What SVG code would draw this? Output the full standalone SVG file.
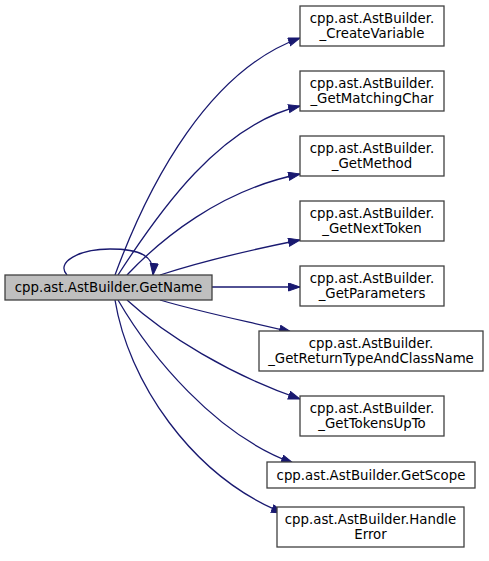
<svg xmlns="http://www.w3.org/2000/svg" width="489" height="561" viewBox="0 0 489 561">
<defs>
<style>
.node rect{fill:#ffffff;stroke:#404040;stroke-width:1.3}
.node.main rect{fill:#bfbfbf}
text{font-family:"DejaVu Sans","Noto Sans",sans-serif;font-size:13.33px;fill:#000;text-anchor:middle}
.edge{fill:none;stroke:#191970;stroke-width:1.3;marker-end:url(#arr)}
</style>
<marker id="arr" markerUnits="userSpaceOnUse" markerWidth="13" markerHeight="10" refX="12" refY="4.5" orient="auto">
<path d="M0.5,0.5 L12,4.5 L0.5,8.5 z" fill="#191970" stroke="#191970" stroke-width="1"/>
</marker>
</defs>
<rect width="489" height="561" fill="#ffffff"/>
<g id="edges">
<path class="edge" d="M67,275 C55,262 80,249 110,249 C140,249 155,256 153,275"/>
<path class="edge" d="M115,275 C150,180 210,70 300,38"/>
<path class="edge" d="M118,275 C160,210 220,125 300,106"/>
<path class="edge" d="M127,275 C160,240 220,190 300,174"/>
<path class="edge" d="M160,275 C200,262 250,250 300,240"/>
<path class="edge" d="M212,287 L300,287"/>
<path class="edge" d="M160,300 C200,312 250,322 291,332"/>
<path class="edge" d="M127,300 C165,335 230,375 300,399"/>
<path class="edge" d="M118,300 C150,355 215,435 293,463"/>
<path class="edge" d="M115,300 C128,380 190,475 283,513"/>
</g>
<g id="main" class="node main">
<rect x="5" y="275" width="207" height="25"/>
<text x="108.5" y="292">cpp.ast.AstBuilder.GetName</text>
</g>
<g id="createvariable" class="node">
<rect x="300" y="6" width="144" height="40"/>
<text x="372" y="23">cpp.ast.AstBuilder.</text>
<text x="372" y="38">_CreateVariable</text>
</g>
<g id="getmatchingchar" class="node">
<rect x="300" y="71" width="144" height="40"/>
<text x="372" y="88">cpp.ast.AstBuilder.</text>
<text x="372" y="103">_GetMatchingChar</text>
</g>
<g id="getmethod" class="node">
<rect x="300" y="136" width="144" height="40"/>
<text x="372" y="153">cpp.ast.AstBuilder.</text>
<text x="372" y="168">_GetMethod</text>
</g>
<g id="getnexttoken" class="node">
<rect x="300" y="201" width="144" height="40"/>
<text x="372" y="218">cpp.ast.AstBuilder.</text>
<text x="372" y="233">_GetNextToken</text>
</g>
<g id="getparameters" class="node">
<rect x="300" y="266" width="144" height="40"/>
<text x="372" y="283">cpp.ast.AstBuilder.</text>
<text x="372" y="298">_GetParameters</text>
</g>
<g id="getreturntype" class="node">
<rect x="259" y="331" width="224" height="40"/>
<text x="371" y="348">cpp.ast.AstBuilder.</text>
<text x="371" y="363">_GetReturnTypeAndClassName</text>
</g>
<g id="gettokensupto" class="node">
<rect x="300" y="396" width="144" height="40"/>
<text x="372" y="413">cpp.ast.AstBuilder.</text>
<text x="372" y="428">_GetTokensUpTo</text>
</g>
<g id="getscope" class="node">
<rect x="267" y="462" width="208" height="26"/>
<text x="371" y="480">cpp.ast.AstBuilder.GetScope</text>
</g>
<g id="handleerror" class="node">
<rect x="277" y="507" width="187" height="40"/>
<text x="370.5" y="524">cpp.ast.AstBuilder.Handle</text>
<text x="370.5" y="539">Error</text>
</g>
</svg>
